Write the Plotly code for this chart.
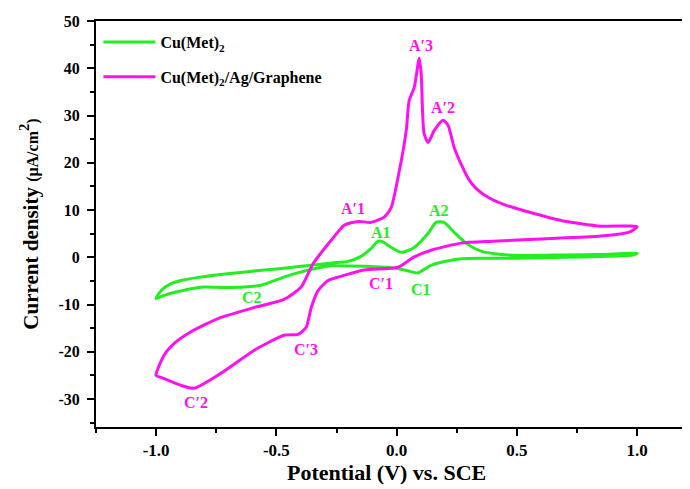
import plotly.graph_objects as go

# ---- data ----
green_x = [-1.0, -0.979, -0.94, -0.896, -0.83, -0.759, -0.65, -0.551, -0.45, -0.343, -0.25, -0.202,
           -0.148, -0.106, -0.077, -0.055, -0.035, 0.019, 0.073, 0.131, 0.164, 0.197, 0.239, 0.289,
           0.351, 0.435, 0.55, 0.7, 0.85, 1.0,
           0.98, 0.85, 0.7, 0.5, 0.35, 0.27, 0.2, 0.143, 0.088, 0.05, 0.0, -0.135, -0.27, -0.343,
           -0.42, -0.48, -0.563, -0.634, -0.72, -0.8, -0.87, -0.938, -0.975, -1.0]
green_y = [-8.7, -7.0, -5.6, -4.9, -4.3, -3.8, -3.2, -2.7, -2.2, -1.6, -1.1, -0.85,
           0.2, 1.9, 3.4, 3.2, 2.5, 1.06, 2.1, 5.1, 7.4, 7.4, 5.3, 3.0,
           1.3, 0.6, 0.4, 0.5, 0.6, 0.85,
           0.5, 0.2, 0.0, -0.2, -0.2, -0.3, -0.9, -1.7, -3.3, -2.9, -2.3, -1.9, -1.8, -2.4,
           -3.4, -4.4, -5.9, -6.3, -6.4, -6.3, -6.8, -7.6, -8.2, -8.7]

magenta_x = [-1.0, -0.967, -0.92, -0.867, -0.8, -0.73, -0.59, -0.468, -0.397, -0.347, -0.272, -0.218,
             -0.16, -0.106, -0.052, -0.023, 0.01, 0.04, 0.052, 0.073, 0.094, 0.102, 0.114, 0.131,
             0.156, 0.193, 0.214, 0.239, 0.27, 0.3, 0.33, 0.38, 0.45, 0.52, 0.684, 0.85, 1.0,
             0.97, 0.85, 0.6, 0.4, 0.268, 0.143, 0.07, 0.006, -0.135, -0.243, -0.285, -0.326,
             -0.355, -0.376, -0.41, -0.468, -0.593, -0.73, -0.842, -0.896, -0.98, -1.0]
magenta_y = [-25.0, -20.7, -18.0, -16.1, -14.3, -12.7, -10.6, -8.9, -6.3, -1.3, 3.6, 6.8,
             7.6, 7.4, 8.5, 10.5, 18.0, 26.8, 33.2, 35.9, 42.1, 38.9, 26.2, 24.3,
             26.8, 29.0, 27.9, 23.3, 19.5, 16.5, 14.6, 12.7, 11.1, 10.0, 7.8, 6.6, 6.5,
             5.4, 4.5, 3.9, 3.4, 3.0, 1.5, 0.0, -2.1, -2.7, -4.2, -4.9, -7.0,
             -10.6, -14.8, -16.3, -16.5, -19.7, -24.5, -27.7, -27.1, -25.4, -25.0]

series_names = ["Cu(Met)<sub>2</sub>", "Cu(Met)<sub>2</sub>/Ag/Graphene"]
series_colors = ["#22EE22", "#FF10F0"]

peak_labels = ["A′3", "A′2", "A′1", "A1", "A2", "C′1", "C1", "C2", "C′3", "C′2"]
peak_x = [0.102, 0.193, -0.18, -0.065, 0.177, -0.064, 0.10, -0.60, -0.376, -0.834]
peak_y = [44.8, 31.7, 10.4, 5.3, 9.9, -5.5, -6.8, -8.5, -19.5, -30.7]
peak_series = [1, 1, 1, 0, 0, 1, 0, 0, 1, 1]

x_tickvals = [-1.0, -0.5, 0.0, 0.5, 1.0]
x_ticktext = ["-1.0", "-0.5", "0.0", "0.5", "1.0"]
y_tickvals = [-30, -20, -10, 0, 10, 20, 30, 40, 50]
y_ticktext = ["-30", "-20", "-10", "0", "10", "20", "30", "40", "50"]

x_title = "Potential (V) vs. SCE"
y_title = "Current density <span style='font-size:16px'>(μA/cm</span><sup>2</sup><span style='font-size:16px'>)</span>"

FONT = "Liberation Serif"

fig = go.Figure()
for i, (xs, ys) in enumerate([(green_x, green_y), (magenta_x, magenta_y)]):
    fig.add_trace(go.Scatter(
        x=xs, y=ys, mode="lines", name=series_names[i],
        line=dict(color=series_colors[i], width=3, shape="spline", smoothing=0.6),
        legendgroup=str(i),
    ))

for lab, px, py, s in zip(peak_labels, peak_x, peak_y, peak_series):
    fig.add_annotation(x=px, y=py, text=lab, showarrow=False,
                       font=dict(family=FONT, size=16, color=series_colors[s], weight="bold"))

# x-axis title (slightly left of the plot-area centre, as in the reference)
fig.add_annotation(xref="paper", yref="paper", x=0.482, y=0, xanchor="center", yanchor="top",
                   yshift=-31, text=x_title, showarrow=False,
                   font=dict(family=FONT, size=22, color="black", weight="bold"))

fig.update_layout(
    width=690, height=481,
    margin=dict(l=88, r=0, t=13, b=62),
    plot_bgcolor="white", paper_bgcolor="white",
    showlegend=True,
    legend=dict(x=0.004, y=0.99, xanchor="left", yanchor="top",
                bgcolor="rgba(0,0,0,0)", traceorder="grouped", tracegroupgap=11,
                font=dict(family=FONT, size=16, color="black", weight="bold"),
                itemwidth=52),
    xaxis=dict(range=[-1.25, 1.253], showgrid=False, zeroline=False, automargin=False,
               showline=True, linecolor="black", linewidth=2, mirror=True,
               ticks="outside", ticklen=7, tickwidth=2, tickcolor="black",
               tickvals=x_tickvals, ticktext=x_ticktext,
               minor=dict(dtick=0.25, tick0=0, ticks="outside", ticklen=4, tickwidth=2, tickcolor="black"),
               tickfont=dict(family=FONT, size=17, color="black", weight="bold")),
    yaxis=dict(range=[-35.9, 50], showgrid=False, zeroline=False, automargin=False,
               showline=True, linecolor="black", linewidth=2, mirror=False,
               ticks="outside", ticklen=7, tickwidth=2, tickcolor="black",
               tickvals=y_tickvals, ticktext=y_ticktext, ticklabelstandoff=4,
               minor=dict(dtick=5, tick0=0, ticks="outside", ticklen=4, tickwidth=2, tickcolor="black"),
               tickfont=dict(family=FONT, size=16, color="black", weight="bold"),
               title=dict(text=y_title, standoff=14,
                          font=dict(family=FONT, size=21, color="black", weight="bold"))),
)

fig.write_html("out.html")
